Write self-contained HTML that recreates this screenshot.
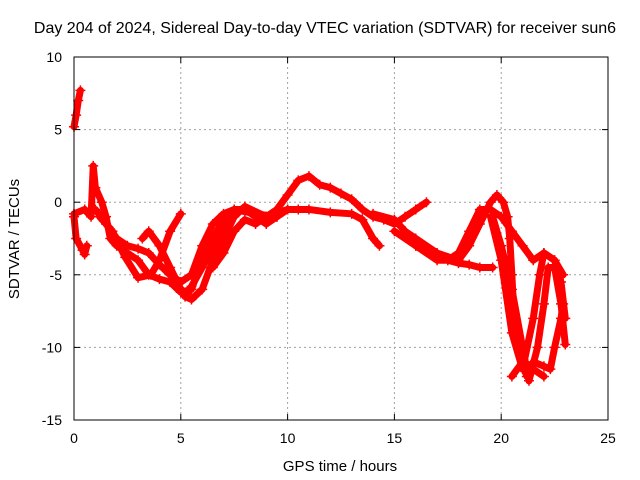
<!DOCTYPE html>
<html><head><meta charset="utf-8"><style>
body{margin:0;background:#fff}
svg{display:block;font-family:"Liberation Sans",sans-serif}
</style></head><body>
<svg id="chart" width="640" height="480" viewBox="0 0 640 480">
<text x="325" y="33" font-size="16" text-anchor="middle">Day 204 of 2024, Sidereal Day-to-day VTEC variation (SDTVAR) for receiver sun6</text>
<g id="grid"></g>
<g id="series"></g>
<rect x="74" y="57" width="534" height="363" fill="none" stroke="#000" stroke-width="1"/>
<g id="ticks"></g>
<text x="340" y="471" font-size="15" text-anchor="middle">GPS time / hours</text>
<text x="19" y="239" font-size="15" text-anchor="middle" transform="rotate(-90 19 239)">SDTVAR / TECUs</text>
</svg>
<script>
const xTicks=[0,5,10,15,20,25];
const yTicks=[-15,-10,-5,0,5,10];
const t0h=[0.0,0.1,0.2,0.3], t0v=[5.2,6,7,7.7];
const t1h=[0,0.1,0.4,0.5,0.6], t1v=[-1,-2.5,-3.3,-3.6,-3];
const t2h=[0,0.5,0.8,0.9,1.0,1.3,1.5,1.7,2.0,2.5,3,3.5,4,4.5,5,5.2,5.5,6,6.5,7,7.5,8,9,9.5,10,10.5,11,11.5,12,12.5,13,13.5,14,14.5,15,15.5,16,16.5];
const t2v=[-0.8,-0.5,-1,2.5,1,0,-1,-2.5,-3,-3.5,-4,-5,-5.3,-5.5,-6,-6.5,-6.7,-6,-4,-2.5,-1,-0.3,-1,-0.5,0.5,1.5,1.8,1.2,1,0.6,0.2,-0.5,-1,-1.2,-1.5,-1,-0.5,0];
const t3h=[1.0,1.5,2,2.5,3,3.5,4,4.5,5,5.5,6,6.5,7,7.5,8,8.5,9,9.5,10,10.5,11,12,13,13.5,14,14.3];
const t3v=[-0.5,-1.5,-2.5,-3,-3.2,-3.5,-4.3,-5,-5.5,-5,-3,-1.5,-0.8,-0.5,-0.5,-1,-1.5,-1,-0.5,-0.5,-0.5,-0.7,-0.8,-1.2,-2.5,-3];
const t4h=[1.2,1.8,2.4,3,3.6,4,4.5,5], t4v=[-1,-2,-3.8,-5.2,-5,-4,-2,-0.8];
const t5h=[3.2,3.5,4,4.5,5,5.3,5.5,6,6.5,7,7.5,8], t5v=[-2.5,-2,-3,-4.5,-6,-6.3,-5.8,-4.5,-3,-1.5,-0.8,-0.5];
const t6h=[4.5,5,5.5,6,6.5,7,7.5,8.5,9.5], t6v=[-5.5,-6.2,-6,-4,-2.5,-1.2,-0.5,-0.8,-1];
const t7h=[6.5,7,7.5,8,8.5,9,10], t7v=[-4.5,-3.5,-2,-1.2,-1.5,-1,-0.5];
const t8h=[14,15,15.5,16,17,18,18.5,19,19.5,19.8,20.1,20.3,20.4,20.5,20.6,20.8,21,21.2,21.5,22,22.3,22.5,22.8,22.9];
const t8v=[-0.8,-1.2,-2,-2.5,-3.5,-4,-3,-1.5,0,0.5,0,-1,-2.5,-5,-8,-10,-11,-12,-11,-11.3,-11.5,-10,-8,-7];
const t9h=[15,16,17,17.5,18,18.5,19,19.5,20,20.5,21,21.5,22,22.5,22.9], t9v=[-2,-3,-4,-4,-3.5,-2,-0.5,-0.5,-1,-2,-3,-4,-3.5,-4,-5];
const t10h=[16,17,18,18.5,19,19.6], t10v=[-3,-3.8,-4.2,-4.3,-4.5,-4.5];
const t11h=[19.6,20,20.5,21,21.3,21.7,22,22.2,22.5,22.8,23], t11v=[-1,-3,-6,-10,-12.3,-10,-7,-4.5,-4.5,-7,-9.8];
const t12h=[19.5,20,20.5,21,21.5,21.8,22,22.5,22.8,23], t12v=[-1,-4,-9,-11.5,-8,-5,-3.5,-4,-5.5,-8];
const t13h=[20.5,21,21.5,22], t13v=[-12,-11,-11.5,-12];
const tracksH=[t0h,t1h,t2h,t3h,t4h,t5h,t6h,t7h,t8h,t9h,t10h,t11h,t12h,t13h];
const tracksV=[t0v,t1v,t2v,t3v,t4v,t5v,t6v,t7v,t8v,t9v,t10v,t11v,t12v,t13v];

const NS='http://www.w3.org/2000/svg';
const X=h=>74+h*534/25;
const Y=v=>57+(10-v)*363/25;
function mk(tag,at,parent){const e=document.createElementNS(NS,tag);for(const k in at)e.setAttribute(k,at[k]);parent.appendChild(e);return e;}
const grid=document.getElementById('grid'),ticks=document.getElementById('ticks'),series=document.getElementById('series');
xTicks.forEach(t=>{
  if(t>0&&t<25){const g=mk('line',{x1:X(t),x2:X(t),y1:57,y2:420,stroke:'#a0a0a0','stroke-dasharray':'2,3'},grid);
  
  }
  mk('line',{x1:X(t),x2:X(t),y1:420,y2:414,stroke:'#000'},ticks);
  mk('line',{x1:X(t),x2:X(t),y1:57,y2:63,stroke:'#000'},ticks);
  const l=mk('text',{x:X(t),y:443,'font-size':14,'text-anchor':'middle'},ticks);l.textContent=t;
  
  
});
yTicks.forEach(t=>{
  if(t>-15&&t<10){const g=mk('line',{x1:74,x2:608,y1:Y(t),y2:Y(t),stroke:'#a0a0a0','stroke-dasharray':'2,3'},grid);
  
  }
  mk('line',{x1:74,x2:80,y1:Y(t),y2:Y(t),stroke:'#000'},ticks);
  mk('line',{x1:608,x2:602,y1:Y(t),y2:Y(t),stroke:'#000'},ticks);
  const l=mk('text',{x:62,y:Y(t)+5,'font-size':14,'text-anchor':'end'},ticks);l.textContent=t;
  
  
});
tracksH.forEach((hs,i)=>{
  const vs=tracksV[i];
  const pts=hs.map((h,j)=>X(h)+','+Y(vs[j])).join(' ');
  const p=mk('polyline',{points:pts,fill:'none',stroke:'#ff0000','stroke-width':7,'stroke-linejoin':'round','stroke-linecap':'round'},series);
  
  
  hs.forEach((h,j)=>{
    const x=X(h),y=Y(vs[j]);
    const m=mk('path',{d:`M${x-5},${y}H${x+5}M${x},${y-5}V${y+5}`,stroke:'#ff0000','stroke-width':1.5},series);
    
    
  });
});
</script>
</body></html>
